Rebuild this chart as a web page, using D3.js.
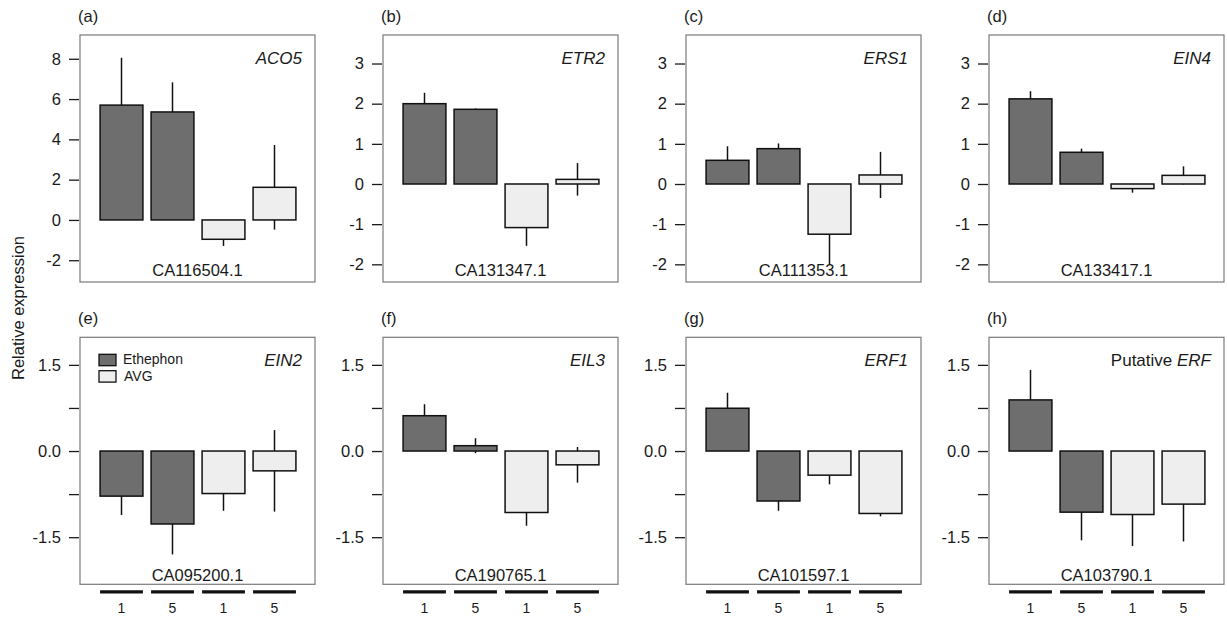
<!DOCTYPE html>
<html>
<head>
<meta charset="utf-8">
<script src="https://cdn.jsdelivr.net/npm/d3@7"></script>
<style>
  html, body { margin: 0; padding: 0; background: #fff; }
  svg { display: block; font-family: "Liberation Sans", Arial, sans-serif; }
</style>
</head>
<body>
<svg id="chart" width="1227" height="617"></svg>
<script>
// ---------------- data ----------------
const panelLetters = ["(a)", "(b)", "(c)", "(d)", "(e)", "(f)", "(g)", "(h)"];
const genePrefix   = ["", "", "", "", "", "", "", "Putative "];
const geneNames    = ["ACO5", "ETR2", "ERS1", "EIN4", "EIN2", "EIL3", "ERF1", "ERF"];
const accessions   = ["CA116504.1", "CA131347.1", "CA111353.1", "CA133417.1",
                      "CA095200.1", "CA190765.1", "CA101597.1", "CA103790.1"];
const treatments   = ["Ethephon", "Ethephon", "AVG", "AVG"];
const dayLabels    = ["1", "5", "1", "5"];
const legendLabels = ["Ethephon", "AVG"];

// mean relative expression (bars)
const means = [
  [5.70, 5.36, -0.96, 1.62],
  [2.00, 1.86, -1.085, 0.115],
  [0.59, 0.88, -1.25, 0.225],
  [2.12, 0.79, -0.115, 0.215],
  [-0.785, -1.27, -0.74, -0.345],
  [0.615, 0.093, -1.07, -0.24],
  [0.745, -0.87, -0.42, -1.087],
  [0.89, -1.064, -1.105, -0.924]
];
// standard deviations (error bars)
const sds = [
  [2.35, 1.47, 0.33, 2.10],
  [0.27, 0.02, 0.455, 0.405],
  [0.35, 0.13, 0.75, 0.575],
  [0.19, 0.09, 0.10, 0.225],
  [0.33, 0.53, 0.30, 0.71],
  [0.20, 0.13, 0.23, 0.31],
  [0.27, 0.17, 0.16, 0.05],
  [0.52, 0.49, 0.55, 0.65]
];

// y-axis domains and ticks
const yDomainA   = [-3.08, 9.18];
const yDomainTop = [-2.44, 3.71];
const yDomainBot = [-2.32, 1.98];
const ticksA     = [-2, 0, 2, 4, 6, 8];
const ticksTop   = [-2, -1, 0, 1, 2, 3];
const ticksBot   = [-1.5, -0.75, 0, 0.75, 1.5];
const tickLabelsA   = ["-2", "0", "2", "4", "6", "8"];
const tickLabelsTop = ["-2", "-1", "0", "1", "2", "3"];
const tickLabelsBot = ["-1.5", "", "0.0", "", "1.5"];

const yTitle = "Relative expression";

// ---------------- layout ----------------
const colors = { Ethephon: "#6e6e6e", AVG: "#eeeeee" };
const panelW = 235, panelH = 247;
const lefts = [80, 383, 686, 989];
const tops = [35, 337.3];

const svg = d3.select("#chart");

svg.append("text")
  .attr("transform", "translate(24,308) rotate(-90)")
  .attr("text-anchor", "middle")
  .attr("font-size", 16.5)
  .attr("fill", "#1a1a1a")
  .text(yTitle);

for (let p = 0; p < 8; p++) {
  const row = Math.floor(p / 4), col = p % 4;
  const x0 = lefts[col], y0 = tops[row];
  const g = svg.append("g").attr("transform", `translate(${x0},${y0})`);

  let dom, tv, tl;
  if (p === 0) { dom = yDomainA; tv = ticksA; tl = tickLabelsA; }
  else if (row === 0) { dom = yDomainTop; tv = ticksTop; tl = tickLabelsTop; }
  else { dom = yDomainBot; tv = ticksBot; tl = tickLabelsBot; }

  const y = d3.scaleLinear().domain(dom).range([panelH, 0]);
  const x = d3.scaleBand().domain(d3.range(4)).range([16, 220])
    .paddingInner(0.16).paddingOuter(0.08);

  // y axis
  const ax = g.append("g")
    .attr("transform", "translate(-1,0)")
    .call(d3.axisLeft(y).tickValues(tv).tickSize(10).tickPadding(8)
      .tickFormat((d, i) => tl[i]));
  ax.select(".domain").remove();
  ax.selectAll("line").attr("stroke", "#1a1a1a").attr("stroke-width", 1.3);
  ax.selectAll("text").attr("font-size", 16.5).attr("fill", "#1a1a1a")
    .attr("font-family", "Liberation Sans, Arial, sans-serif");

  const data = means[p].map((m, i) => ({ i, m, sd: sds[p][i], t: treatments[i] }));

  // error bars (mean ± sd), drawn behind bars
  g.selectAll("line.err").data(data).enter().append("line")
    .attr("class", "err")
    .attr("x1", d => x(d.i) + x.bandwidth() / 2)
    .attr("x2", d => x(d.i) + x.bandwidth() / 2)
    .attr("y1", d => y(d.m - d.sd))
    .attr("y2", d => y(d.m + d.sd))
    .attr("stroke", "#111").attr("stroke-width", 1.5);

  // bars
  g.selectAll("rect.bar").data(data).enter().append("rect")
    .attr("class", "bar")
    .attr("x", d => x(d.i))
    .attr("width", x.bandwidth())
    .attr("y", d => y(Math.max(0, d.m)))
    .attr("height", d => Math.abs(y(d.m) - y(0)))
    .attr("fill", d => colors[d.t])
    .attr("stroke", "#111").attr("stroke-width", 1.5);

  // frame
  g.append("rect").attr("x", 0).attr("y", 0).attr("width", panelW).attr("height", panelH)
    .attr("fill", "none").attr("stroke", "#7a7a7a").attr("stroke-width", 1.2);

  // panel letter
  g.append("text").attr("x", -2).attr("y", -13)
    .attr("font-size", 16.5).attr("fill", "#1a1a1a").text(panelLetters[p]);

  // gene name
  const gt = g.append("text").attr("x", panelW - 13).attr("y", 28.5)
    .attr("text-anchor", "end").attr("font-size", 17).attr("fill", "#1a1a1a");
  if (genePrefix[p]) gt.append("tspan").text(genePrefix[p]);
  gt.append("tspan").attr("font-style", "italic").text(geneNames[p]);

  // accession
  g.append("text").attr("x", panelW / 2).attr("y", panelH - (row === 0 ? 6 : 3.5))
    .attr("text-anchor", "middle").attr("font-size", 16.5).attr("fill", "#1a1a1a")
    .text(accessions[p]);

  if (row === 1) {
    // day markers under bars
    g.selectAll("line.day").data(data).enter().append("line")
      .attr("x1", d => x(d.i)).attr("x2", d => x(d.i) + x.bandwidth())
      .attr("y1", panelH + 7.5).attr("y2", panelH + 7.5)
      .attr("stroke", "#111").attr("stroke-width", 3.2);
    g.selectAll("text.day").data(data).enter().append("text")
      .attr("x", d => x(d.i) + x.bandwidth() / 2).attr("y", panelH + 29)
      .attr("text-anchor", "middle").attr("font-size", 14).attr("fill", "#1a1a1a")
      .text(d => dayLabels[d.i]);
  }

  if (p === 4) {
    const lg = g.append("g").attr("transform", "translate(19,17)");
    legendLabels.forEach((lab, k) => {
      lg.append("rect").attr("x", 0).attr("y", k * 16.4).attr("width", 17).attr("height", 11.4)
        .attr("fill", colors[lab]).attr("stroke", "#111").attr("stroke-width", 1.3);
      lg.append("text").attr("x", 24 + (k === 1 ? 1 : 0)).attr("y", k * 16.4 + 10)
        .attr("font-size", 14).attr("fill", "#1a1a1a").text(lab);
    });
  }
}
</script>
</body>
</html>
